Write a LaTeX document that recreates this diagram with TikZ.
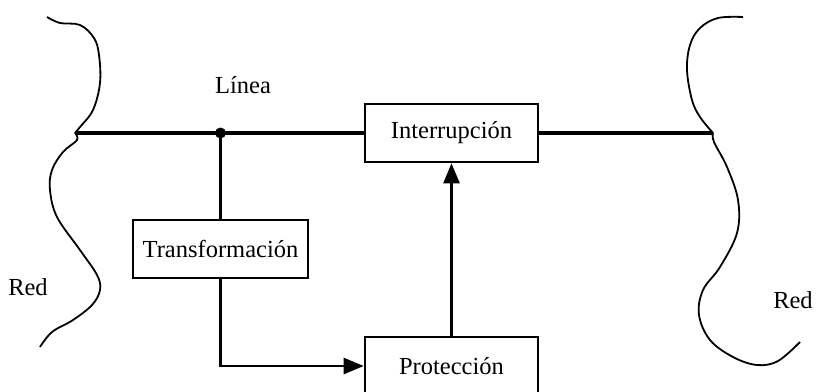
\documentclass[tikz,border=0pt]{standalone}
\usepackage{fontspec}
\setmainfont{Liberation Serif}
\usetikzlibrary{arrows.meta}
\begin{document}
\begin{tikzpicture}[x=1pt,y=-1pt,
  blk/.style={draw,line width=2.6pt,minimum width=173pt,minimum height=58pt,inner sep=0pt,font=\fontsize{24.5}{28}\selectfont},
  lbl/.style={font=\fontsize{24.5}{28}\selectfont},
  conn/.style={line width=2.6pt},
  bus/.style={line width=4.5pt},
  arr/.style={conn,-{Triangle[length=20pt,width=16pt]}},
  wave/.style={line width=1.8pt}]
\useasboundingbox (0,0) rectangle (816,391);
% boxes
\node[blk] (int) at (451.5,133) {Interrupción};
\node[blk,minimum width=175pt] (tra) at (220.5,249) {Transformación};
\node[blk] (pro) at (451.5,366) {Protección};
% bus points
\coordinate (L) at (75,133);
\coordinate (R) at (713,133);
\coordinate (J) at (220.5,133);
\draw[bus] (L) -- (int.west);
\draw[bus] (int.east) -- (R);
\fill (J) circle (5.5pt);
\node[lbl] (linea) at (243,85) {Línea};
% connectors
\draw[conn] (J) -- (tra.north);
\draw[arr] (tra.south) |- (pro.west);
\draw[arr] (pro.north) -- (int.south);
% network curves
\draw[wave] plot[smooth,tension=0.6] coordinates {(47,17) (60,23) (80,25) (94,38) (99,55) (100,83) (93,110) (80,127) (75,133)};
\draw[wave] plot[smooth,tension=0.6] coordinates {(75,133) (77,140) (63,152) (52,170) (50,190) (57,217) (80,250) (97,275) (100,290) (92,305) (73,320) (52,332) (40,347)};
\draw[wave] plot[smooth,tension=0.6] coordinates {(743,17) (718,18) (700,28) (690,45) (687,70) (692,100) (700,117) (713,133)};
\draw[wave] plot[smooth,tension=0.6] coordinates {(713,133) (714,142) (727,167) (738,200) (737,233) (720,267) (703,290) (699,315) (710,340) (733,357) (757,365) (778,361) (800,342)};
\node[lbl] (redl) at (28,287) {Red};
\node[lbl] (redr) at (793,300) {Red};
\end{tikzpicture}
\end{document}
